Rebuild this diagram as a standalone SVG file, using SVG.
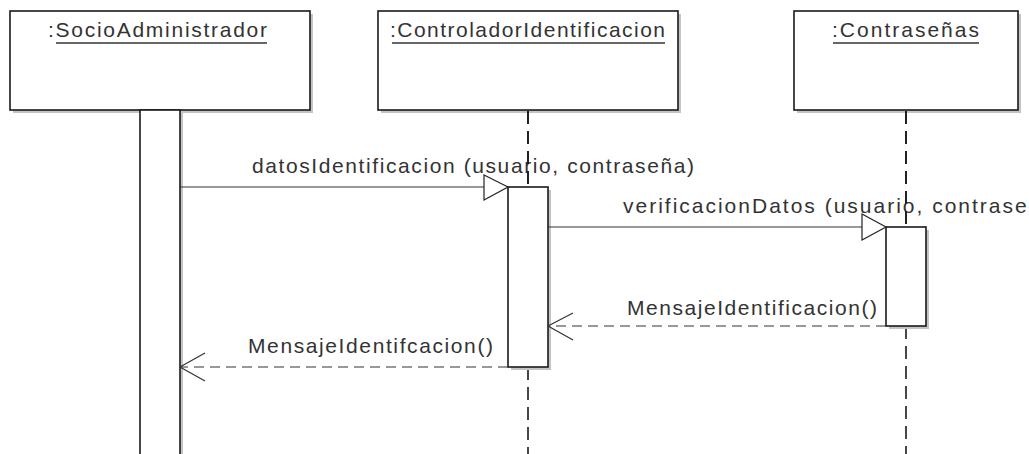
<svg xmlns="http://www.w3.org/2000/svg" width="1029" height="454" viewBox="0 0 1029 454">
<style>
.shadow{fill:#c4c4c4;stroke:none}
.box{fill:#ffffff;stroke:#1a1a1a;stroke-width:1.6}
.life{stroke:#1a1a1a;stroke-width:1.6;stroke-dasharray:13 7;fill:none}
.msg{stroke:#333;stroke-width:1.2;fill:none}
.ret{stroke:#333;stroke-width:1.2;fill:none;stroke-dasharray:10 6}
.head{fill:#fff;stroke:#222;stroke-width:1.2}
.open{fill:none;stroke:#333;stroke-width:1.2}
.t{font-family:"Liberation Sans",Arial,sans-serif;font-size:21px;fill:#333}
.ul{stroke:#333;stroke-width:1.4}
</style>
<rect width="1029" height="454" fill="#ffffff"/>
<g id="socio">
  <rect class="shadow" x="13" y="14" width="300" height="99"/>
  <rect class="box" x="10" y="11" width="300" height="99"/>
  <text class="t" x="48" y="37" textLength="219" lengthAdjust="spacing">:SocioAdministrador</text>
  <line class="ul" x1="56" y1="43" x2="267" y2="43"/>
  <rect class="shadow" x="143" y="113" width="40" height="350"/>
  <rect class="box" x="140" y="110" width="40" height="360"/>
</g>
<g id="controlador">
  <rect class="shadow" x="381" y="14" width="300" height="99"/>
  <rect class="box" x="378" y="11" width="300" height="99"/>
  <text class="t" x="390" y="37" textLength="275" lengthAdjust="spacing">:ControladorIdentificacion</text>
  <line class="ul" x1="392" y1="43" x2="665" y2="43"/>
  <line class="life" x1="528" y1="111" x2="528" y2="187"/>
  <line class="life" x1="528" y1="367" x2="528" y2="460"/>
  <rect class="shadow" x="511" y="190" width="40" height="180"/>
  <rect class="box" x="508" y="187" width="40" height="180"/>
</g>
<g id="contrasenas">
  <rect class="shadow" x="797" y="14" width="224" height="99"/>
  <rect class="box" x="794" y="11" width="224" height="99"/>
  <text class="t" x="832" y="37" textLength="147" lengthAdjust="spacing">:Contraseñas</text>
  <line class="ul" x1="833" y1="43" x2="979" y2="43"/>
  <line class="life" x1="906" y1="111" x2="906" y2="227"/>
  <line class="life" x1="906" y1="326" x2="906" y2="460"/>
  <rect class="shadow" x="889" y="230" width="40" height="99"/>
  <rect class="box" x="886" y="227" width="40" height="99"/>
</g>
<g id="connectors">
  <line class="msg" x1="180" y1="187" x2="484" y2="187"/>
  <polygon class="head" points="484,175 508,187 484,200"/>
  <text class="t" x="252" y="173" textLength="442" lengthAdjust="spacing">datosIdentificacion (usuario, contraseña)</text>
  <line class="msg" x1="548" y1="227" x2="862" y2="227"/>
  <polygon class="head" points="862,214 886,227 862,240"/>
  <text class="t" x="623" y="213" textLength="440" lengthAdjust="spacing">verificacionDatos (usuario, contraseña)</text>
  <line class="ret" x1="886" y1="326" x2="548" y2="326"/>
  <polyline class="open" points="573,313 548,326 573,340"/>
  <text class="t" x="627" y="315" textLength="250" lengthAdjust="spacing">MensajeIdentificacion()</text>
  <line class="ret" x1="508" y1="367" x2="180" y2="367"/>
  <polyline class="open" points="205,353 180,367 205,381"/>
  <text class="t" x="248" y="353" textLength="245" lengthAdjust="spacing">MensajeIdentifcacion()</text>
  <line class="life" x1="528" y1="111" x2="528" y2="187"/>
  <line class="life" x1="906" y1="111" x2="906" y2="227"/>
</g>
</svg>
